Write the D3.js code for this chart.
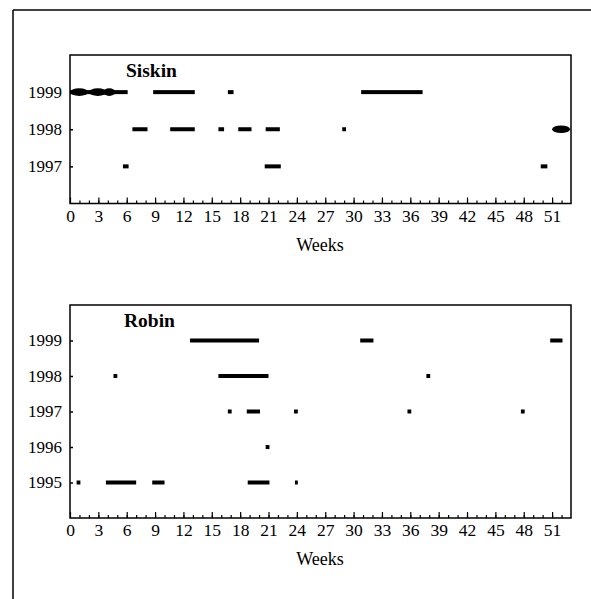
<!DOCTYPE html>
<html>
<head>
<meta charset="utf-8">
<script src="https://cdn.jsdelivr.net/npm/d3@7/dist/d3.min.js"></script>
<style>
  html, body { margin: 0; padding: 0; background: #fff; }
  svg { display: block; }
</style>
</head>
<body>
<svg id="chart" width="591" height="599"></svg>
<script>
// ---- data (weeks) ----
const weekLabels = [0, 3, 6, 9, 12, 15, 18, 21, 24, 27, 30, 33, 36, 39, 42, 45, 48, 51];
const minorWeeks = d3.range(1, 53);

const siskinYears = [1999, 1998, 1997];
// [year, startWeek, endWeek]
const siskinSegments = [
  [1999, 0, 6.1], [1999, 8.8, 13.2], [1999, 16.7, 17.3], [1999, 30.8, 37.3],
  [1998, 6.6, 8.2], [1998, 10.6, 13.2], [1998, 15.7, 16.3], [1998, 17.8, 19.2],
  [1998, 20.7, 22.2], [1998, 28.8, 29.2],
  [1997, 5.6, 6.2], [1997, 20.6, 22.3], [1997, 49.8, 50.5]
];
// thick blobs [year, startWeek, endWeek]
const siskinBlobs = [
  [1999, 0, 1.95], [1999, 2.0, 3.9], [1999, 3.5, 4.8],
  [1998, 51.0, 52.9]
];

const robinYears = [1999, 1998, 1997, 1996, 1995];
const robinSegments = [
  [1999, 12.7, 20.0], [1999, 30.7, 32.1], [1999, 50.8, 52.1],
  [1998, 4.6, 5.0], [1998, 15.7, 21.0], [1998, 37.7, 38.1],
  [1997, 16.7, 17.1], [1997, 18.7, 20.1], [1997, 23.7, 24.1], [1997, 35.7, 36.1], [1997, 47.7, 48.1],
  [1996, 20.7, 21.1],
  [1995, 0.7, 1.1], [1995, 3.8, 7.0], [1995, 8.7, 10.0], [1995, 18.8, 21.1], [1995, 23.8, 24.1]
];
const robinBlobs = [];

// ---- drawing ----
const FONT = "'Liberation Serif', 'Times New Roman', Tinos, 'DejaVu Serif', serif";
const svg = d3.select("#chart");

// outer frame (top and left edges)
svg.append("line").attr("x1", 13).attr("x2", 591).attr("y1", 10).attr("y2", 10)
  .attr("stroke", "#000").attr("stroke-width", 1.5);
svg.append("line").attr("x1", 13).attr("x2", 13).attr("y1", 10).attr("y2", 599)
  .attr("stroke", "#000").attr("stroke-width", 1.5);

function panel(cfg) {
  const x = d3.scaleLinear().domain([0, 53]).range([70, 571]);
  const y = d3.scaleLinear().domain([cfg.yMin, cfg.yMax]).range([cfg.bottom, cfg.top]);
  const g = svg.append("g");

  // minor ticks
  g.append("g").attr("transform", `translate(0,${cfg.bottom})`)
    .call(d3.axisBottom(x).tickValues(minorWeeks).tickSize(-3).tickFormat(""))
    .call(a => a.select(".domain").remove())
    .call(a => a.selectAll("line").attr("stroke", "#000").attr("stroke-width", 1.2));
  // major ticks + labels
  g.append("g").attr("transform", `translate(0,${cfg.bottom})`)
    .call(d3.axisBottom(x).tickValues(weekLabels).tickSize(-6).tickPadding(6).tickFormat(d3.format("d")))
    .attr("font-family", FONT).attr("font-size", 17.5)
    .call(a => a.select(".domain").remove())
    .call(a => a.selectAll("line").attr("stroke", "#000").attr("stroke-width", 1.2))
    .call(a => a.selectAll("text").attr("fill", "#000"));

  // y axis
  g.append("g").attr("transform", "translate(70,0)")
    .call(d3.axisLeft(y).tickValues(cfg.years).tickSize(-3).tickPadding(8).tickFormat(d3.format("d")))
    .attr("font-family", FONT).attr("font-size", 17)
    .call(a => a.select(".domain").remove())
    .call(a => a.selectAll("line").attr("stroke", "#000").attr("stroke-width", 1.5))
    .call(a => a.selectAll("text").attr("fill", "#000"));

  // plot frame
  g.append("rect").attr("x", x(0)).attr("y", cfg.top)
    .attr("width", x(53) - x(0)).attr("height", cfg.bottom - cfg.top)
    .attr("fill", "none").attr("stroke", "#000").attr("stroke-width", 1.5);

  // segments
  g.selectAll("rect.seg").data(cfg.segments).join("rect").attr("class", "seg")
    .attr("x", d => x(d[1])).attr("width", d => x(d[2]) - x(d[1]))
    .attr("y", d => y(d[0]) - 2).attr("height", 4)
    .attr("fill", "#000");

  // blobs
  g.selectAll("ellipse.blob").data(cfg.blobs).join("ellipse").attr("class", "blob")
    .attr("cx", d => (x(d[1]) + x(d[2])) / 2)
    .attr("rx", d => (x(d[2]) - x(d[1])) / 2)
    .attr("cy", d => y(d[0])).attr("ry", 3.8)
    .attr("fill", "#000");

  // title
  g.append("text").attr("x", cfg.titleX).attr("y", cfg.titleY)
    .attr("font-family", FONT)
    .attr("font-size", 19.5).attr("font-weight", "bold").text(cfg.title);

  // axis title
  g.append("text").attr("x", 320).attr("y", cfg.bottom + 47)
    .attr("font-family", FONT)
    .attr("text-anchor", "middle").attr("font-size", 18).text("Weeks");
}

panel({
  title: "Siskin", titleX: 126, titleY: 77,
  top: 55, bottom: 203.5, yMin: 1996, yMax: 2000,
  years: siskinYears, segments: siskinSegments, blobs: siskinBlobs
});

panel({
  title: "Robin", titleX: 124, titleY: 327,
  top: 305, bottom: 518, yMin: 1994, yMax: 2000,
  years: robinYears, segments: robinSegments, blobs: robinBlobs
});
</script>
</body>
</html>
